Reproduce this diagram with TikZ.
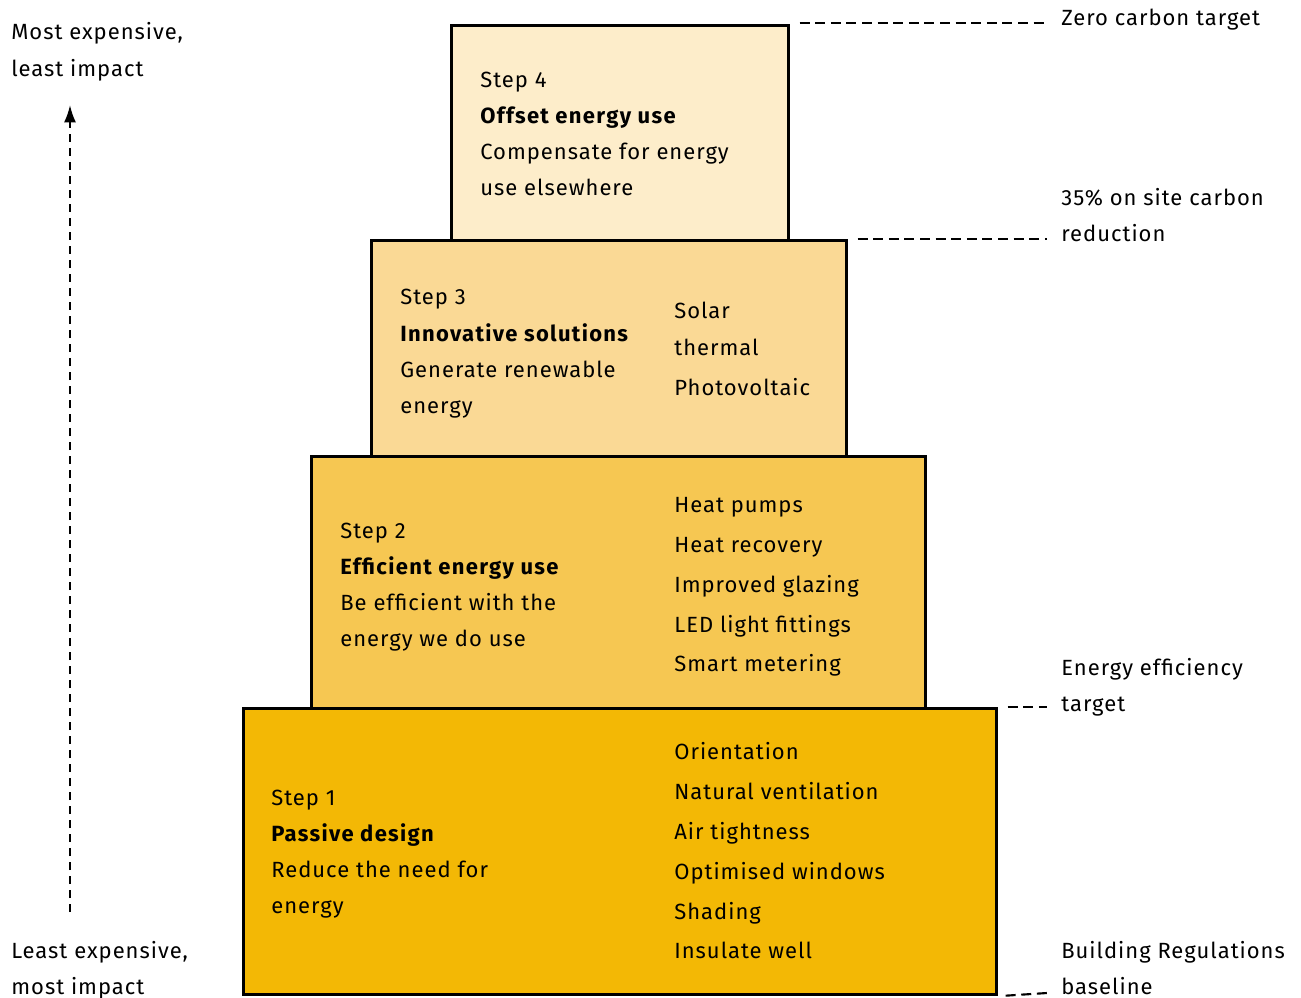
\documentclass[tikz,border=0pt]{standalone}
\usepackage{fontspec}
\setmainfont{Fira Sans}[LetterSpace=4.5, BoldFeatures={LetterSpace=6}]
\usetikzlibrary{arrows.meta,positioning}
\definecolor{fillfour}{HTML}{FDEDCA}
\definecolor{fillthree}{HTML}{FAD995}
\definecolor{filltwo}{HTML}{F6C752}
\definecolor{fillone}{HTML}{F3B805}
\begin{document}
\begin{tikzpicture}
[x=0.75pt, y=-0.75pt, line width=2pt, >=Latex,
stepbox/.style={rectangle, draw, inner sep=0pt, anchor=north west},
line/.style={anchor=base west, inner sep=0pt, font=\fontsize{16.5}{20}\selectfont},
headline/.style={line, font=\fontsize{16.5}{20}\selectfont\bfseries},
target/.style={line width=1.6pt, dash pattern=on 7.5pt off 4.2pt}]

\useasboundingbox (0,0) rectangle (1301,998);

% the four steps
\node[stepbox, fill=fillone, minimum width=564.75pt, minimum height=214.5pt] (step1) at (242,707) {};
\node[stepbox, fill=filltwo, minimum width=460.5pt, minimum height=189pt] (step2) at (310,455) {};
\node[stepbox, fill=fillthree, minimum width=356.25pt, minimum height=162pt] (step3) at (370,239) {};
\node[stepbox, fill=fillfour, minimum width=252.75pt, minimum height=161.25pt] (step4) at (450,24) {};

% step 4
\node[line] (s4a) at (479,88) {Step 4};
\node[headline] (s4b) at (479,124) {Offset energy use};
\node[line] (s4c) at (479,160) {Compensate for energy};
\node[line] (s4d) at (479,196) {use elsewhere};

% step 3
\node[line] (s3a) at (399,305) {Step 3};
\node[headline] (s3b) at (399,341) {Innovative solutions};
\node[line] (s3c) at (399,377) {Generate renewable};
\node[line] (s3d) at (399,413) {energy};
\node[line] (s3e) at (673,319) {Solar};
\node[line] (s3f) at (673,355) {thermal};
\node[line] (s3g) at (673,395) {Photovoltaic};

% step 2
\node[line] (s2a) at (339,538) {Step 2};
\node[headline] (s2b) at (339,574) {Efficient energy use};
\node[line] (s2c) at (339,610) {Be efficient with the};
\node[line] (s2d) at (339,646) {energy we do use};
\node[line] (s2e) at (673,512) {Heat pumps};
\node[line] (s2f) at (673,552) {Heat recovery};
\node[line] (s2g) at (673,592) {Improved glazing};
\node[line] (s2h) at (673,632) {LED light fittings};
\node[line] (s2i) at (673,671) {Smart metering};

% step 1
\node[line] (s1a) at (270,805) {Step 1};
\node[headline] (s1b) at (270,841) {Passive design};
\node[line] (s1c) at (270,877) {Reduce the need for};
\node[line] (s1d) at (270,913) {energy};
\node[line] (s1e) at (673,759) {Orientation};
\node[line] (s1f) at (673,799) {Natural ventilation};
\node[line] (s1g) at (673,839) {Air tightness};
\node[line] (s1h) at (673,879) {Optimised windows};
\node[line] (s1i) at (673,919) {Shading};
\node[line] (s1j) at (673,958) {Insulate well};

% targets
\node[line] (zero) at (1060,26) {Zero carbon target};
\node[line] (onsite) at (1060,206) {35\% on site carbon};
\node[line] (onsite2) at (1060,242) {reduction};
\node[line] (effic) at (1060,675) {Energy efficiency};
\node[line] (effic2) at (1060,711) {target};
\node[line] (regs) at (1060,958) {Building Regulations};
\node[line] (regs2) at (1060,994) {baseline};

\coordinate (zeroend) at (1047,23);
\coordinate (onsiteend) at (1047,239);
\coordinate (efficend) at (1047,707);
\coordinate (regsend) at (1047,993);

\draw[target] ([xshift=7.5pt, yshift=0.75pt]step4.north east) -- (zeroend);
\draw[target] ([xshift=7.5pt]step3.north east) -- (onsiteend);
\draw[target] ([xshift=7.5pt]step1.north east) -- (efficend);
\draw[target] ([xshift=6pt]step1.south east) -- (regsend);

% cost / impact axis
\node[line] (most) at (10,40) {Most expensive,};
\node[line] (most2) at (10,77) {least impact};
\node[line] (least) at (10,958) {Least expensive,};
\node[line] (least2) at (10,994) {most impact};

\coordinate (axislow) at (70,912);
\coordinate (axishigh) at (70,105);
\draw[target, dash pattern=on 6pt off 4.5pt, -{Latex[length=13pt, width=9pt]}] (axislow) -- (axishigh);

\end{tikzpicture}
\end{document}
